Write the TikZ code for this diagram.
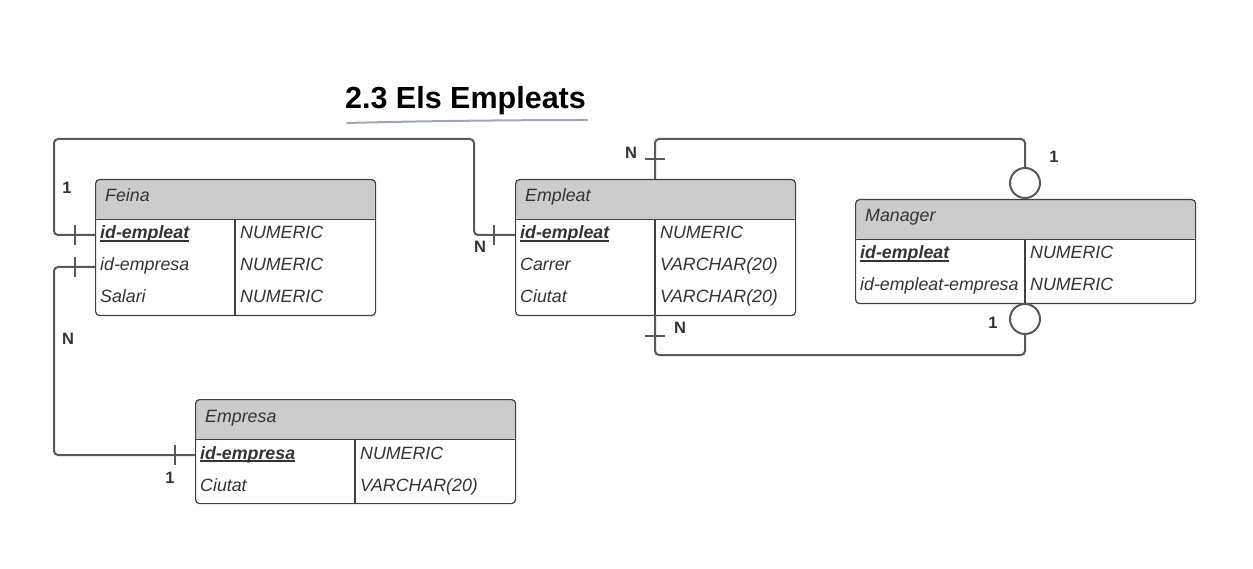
\documentclass[tikz,border=0pt]{standalone}
\usepackage{fontspec}
\setmainfont{Liberation Sans}
\definecolor{conncol}{HTML}{595959}
\definecolor{boxcol}{HTML}{404040}
\definecolor{hdrcol}{HTML}{CCCCCC}
\definecolor{txtcol}{HTML}{333333}
\definecolor{ulcol}{HTML}{A2A6B4}
\newcommand\keyul[1]{\setbox0\hbox{#1}\rlap{\rule[-2.6pt]{\wd0}{1.3pt}}\box0}
\tikzset{
  conn/.style={draw=conncol, line width=2pt, rounded corners=4pt},
  tickmark/.style={draw=conncol, line width=2pt},
  divider/.style={draw=boxcol, line width=1.2pt},
  tbox/.style={draw=boxcol, line width=1.2pt, rounded corners=4pt, rectangle, inner sep=0pt, anchor=north west,
    path picture={\fill[hdrcol] (path picture bounding box.north west) rectangle ([yshift=-40pt]path picture bounding box.north east);
      \draw[boxcol, line width=1.2pt] ([yshift=-40pt]path picture bounding box.north west) -- ([yshift=-40pt]path picture bounding box.north east);}},
  celltxt/.style={anchor=base west, inner sep=0pt, text=txtcol, font=\fontsize{17.8}{20}\selectfont\itshape},
  keytxt/.style={celltxt, font=\fontsize{17.8}{20}\selectfont\itshape\bfseries},
  card/.style={font=\fontsize{16.5}{19}\selectfont\bfseries, text=txtcol, inner sep=0pt},
  ring/.style={circle, draw=conncol, line width=2pt, minimum size=30pt, inner sep=0pt, fill=white},
}
\begin{document}
\begin{tikzpicture}[x=1pt,y=-1pt]
\useasboundingbox (0,0) rectangle (1253,569);

% title
\node[anchor=base, inner sep=0pt, font=\fontsize{30.5}{34}\selectfont\bfseries] (title) at (465.5,109) {2.3 Els Empleats};
\draw[ulcol, line width=2pt, line cap=round] (347,123) .. controls (420,121) and (520,120) .. (587,120);

% ---------- Feina ----------
\node[tbox, minimum width=280pt, minimum height=136pt] (feina) at (95,179) {};
\draw[divider] (235,219) -- (235,315);
\node[celltxt] (feinaH) at (105,202) {Feina};
\node[keytxt] (feinaA1) at (100,239) {\keyul{id-empleat}};
\node[celltxt] (feinaB1) at (240,239) {NUMERIC};
\node[celltxt] (feinaA2) at (100,271) {id-empresa};
\node[celltxt] (feinaB2) at (240,271) {NUMERIC};
\node[celltxt] (feinaA3) at (100,303) {Salari};
\node[celltxt] (feinaB3) at (240,303) {NUMERIC};

% ---------- Empleat ----------
\node[tbox, minimum width=280pt, minimum height=136pt] (empleat) at (515,179) {};
\draw[divider] (655,219) -- (655,315);
\node[celltxt] (empleatH) at (525,202) {Empleat};
\node[keytxt] (empleatA1) at (520,239) {\keyul{id-empleat}};
\node[celltxt] (empleatB1) at (660,239) {NUMERIC};
\node[celltxt] (empleatA2) at (520,271) {Carrer};
\node[celltxt] (empleatB2) at (660,271) {VARCHAR(20)};
\node[celltxt] (empleatA3) at (520,303) {Ciutat};
\node[celltxt] (empleatB3) at (660,303) {VARCHAR(20)};

% ---------- Manager ----------
\node[tbox, minimum width=340pt, minimum height=104pt] (manager) at (855,199) {};
\draw[divider] (1025,239) -- (1025,303);
\node[celltxt] (managerH) at (865,222) {Manager};
\node[keytxt] (managerA1) at (860,259) {\keyul{id-empleat}};
\node[celltxt] (managerB1) at (1030,259) {NUMERIC};
\node[celltxt] (managerA2) at (860,291) {id-empleat-empresa};
\node[celltxt] (managerB2) at (1030,291) {NUMERIC};

% ---------- Empresa ----------
\node[tbox, minimum width=320pt, minimum height=104pt] (empresa) at (195,399) {};
\draw[divider] (355,439) -- (355,503);
\node[celltxt] (empresaH) at (205,422) {Empresa};
\node[keytxt] (empresaA1) at (200,459) {\keyul{id-empresa}};
\node[celltxt] (empresaB1) at (360,459) {NUMERIC};
\node[celltxt] (empresaA2) at (200,491) {Ciutat};
\node[celltxt] (empresaB2) at (360,491) {VARCHAR(20)};

% connection points
\coordinate (pFeinaEmp) at (95,235);
\coordinate (pFeinaEmpr) at (95,267);
\coordinate (pEmpleatKey) at (515,235);
\coordinate (pEmpresaKey) at (195,455);
\coordinate (pEmpleatTop) at (655,179);
\coordinate (pEmpleatBot) at (655,315);

\node[ring] (ringTop) at (1025,183) {};
\node[ring] (ringBot) at (1025,319) {};

% connector Feina - Empleat
\draw[conn] (pFeinaEmp) -- (54,235) -- (54,139) -- (474,139) -- (474,235) -- (pEmpleatKey);
\draw[tickmark] (75,225) -- (75,245);
\draw[tickmark] (494,225) -- (494,245);
\node[card] (l1) at (67,188) {1};
\node[card] (l2) at (480,247) {N};

% connector Feina - Empresa
\draw[conn] (pFeinaEmpr) -- (54,267) -- (54,455) -- (pEmpresaKey);
\draw[tickmark] (75,257) -- (75,277);
\draw[tickmark] (175,445) -- (175,465);
\node[card] (l3) at (68,339) {N};
\node[card] (l4) at (170,478) {1};

% connector Empleat - Manager (top)
\draw[conn] (pEmpleatTop) -- (655,139) -- (1025,139) -- (ringTop.north);
\draw[tickmark] (645,159) -- (665,159);
\node[card] (l5) at (631,153) {N};
\node[card] (l6) at (1054,157) {1};

% connector Empleat - Manager (bottom)
\draw[conn] (pEmpleatBot) -- (655,355) -- (1025,355) -- (ringBot.south);
\draw[tickmark] (645,336) -- (665,336);
\node[card] (l7) at (680,328) {N};
\node[card] (l8) at (993,323) {1};
\end{tikzpicture}
\end{document}
